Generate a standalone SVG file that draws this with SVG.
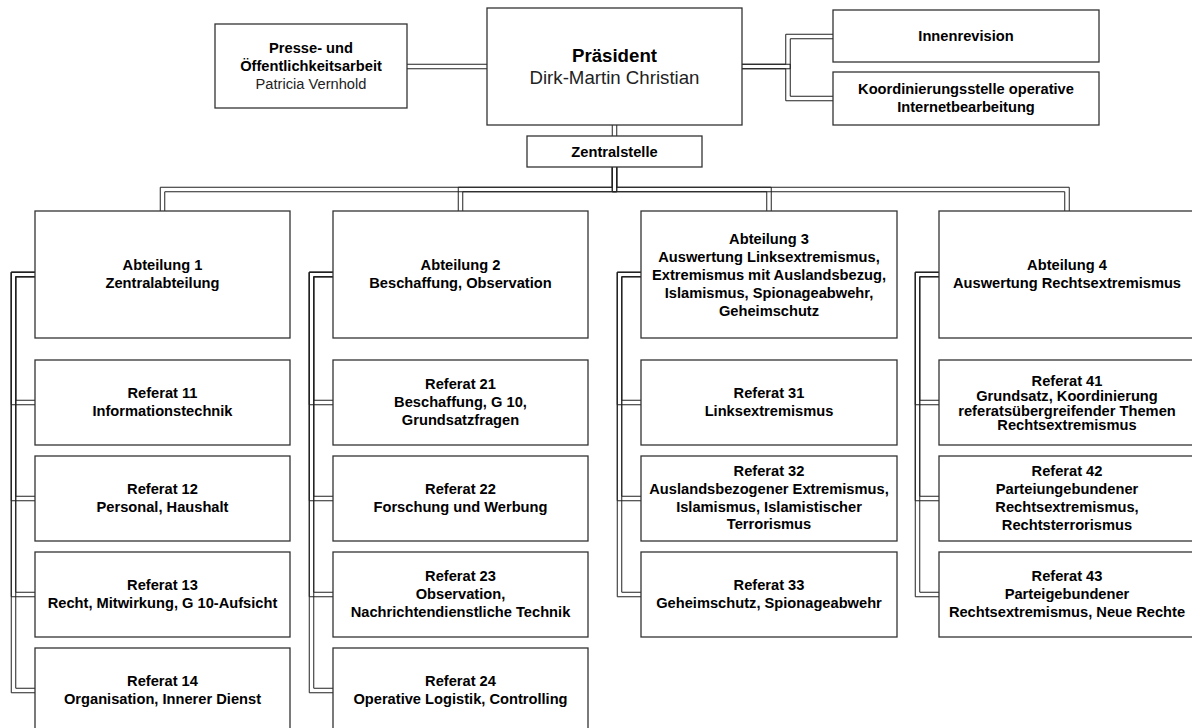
<svg xmlns="http://www.w3.org/2000/svg" width="1192" height="728" viewBox="0 0 1192 728">
<style>
.box{fill:#fff;stroke:#333;stroke-width:1.3}
.t{font-family:"Liberation Sans",Arial,sans-serif;font-size:14.67px;font-weight:bold;fill:#000;text-anchor:middle}
.n{font-weight:normal;fill:#222}
.big{font-size:18.67px}
.c{fill:none;stroke:#222;stroke-width:1}
</style>
<rect width="1192" height="728" fill="#fff"/>
<g id="connectors">
<!-- Praesident - Presse -->
<path class="c" d="M487 64.25H407M487 68.75H407"/>
<!-- Praesident - Innenrevision -->
<path class="c" d="M742 64.25H785.75V34.25H833M742 68.75H790.25V38.75H833"/>
<!-- Praesident - Koordinierung -->
<path class="c" d="M742 64.25H790.25V96.25H833M742 68.75H785.75V100.75H833"/>
<!-- Praesident - Zentralstelle -->
<path class="c" d="M612.25 125V136M616.75 125V136"/>
<!-- Zentralstelle - Abteilungen -->
<path class="c" d="M616.75 167V191.75H164.75V211M612.25 167V187.25H160.25V211"/>
<path class="c" d="M616.75 167V191.75H462.75V211M612.25 167V187.25H458.25V211"/>
<path class="c" d="M616.75 167V187.25H771.25V211M612.25 167V191.75H766.75V211"/>
<path class="c" d="M616.75 167V187.25H1069.25V211M612.25 167V191.75H1064.75V211"/>
<!-- Abteilung 1 -->
<path class="c" d="M35 276.75H15.75V400.25H35M35 272.25H11.25V404.75H35"/>
<path class="c" d="M35 276.75H15.75V496.25H35M35 272.25H11.25V500.75H35"/>
<path class="c" d="M35 276.75H15.75V592.25H35M35 272.25H11.25V596.75H35"/>
<path class="c" d="M35 276.75H15.75V688.25H35M35 272.25H11.25V692.75H35"/>
<!-- Abteilung 2 -->
<path class="c" d="M333 276.75H313.75V400.25H333M333 272.25H309.25V404.75H333"/>
<path class="c" d="M333 276.75H313.75V496.25H333M333 272.25H309.25V500.75H333"/>
<path class="c" d="M333 276.75H313.75V592.25H333M333 272.25H309.25V596.75H333"/>
<path class="c" d="M333 276.75H313.75V688.25H333M333 272.25H309.25V692.75H333"/>
<!-- Abteilung 3 -->
<path class="c" d="M641 276.75H621.75V400.25H641M641 272.25H617.25V404.75H641"/>
<path class="c" d="M641 276.75H621.75V496.25H641M641 272.25H617.25V500.75H641"/>
<path class="c" d="M641 276.75H621.75V592.25H641M641 272.25H617.25V596.75H641"/>
<!-- Abteilung 4 -->
<path class="c" d="M939 276.75H919.75V400.25H939M939 272.25H915.25V404.75H939"/>
<path class="c" d="M939 276.75H919.75V496.25H939M939 272.25H915.25V500.75H939"/>
<path class="c" d="M939 276.75H919.75V592.25H939M939 272.25H915.25V596.75H939"/>
</g>
<g id="praesident">
<rect class="box" x="487" y="8" width="255" height="117"/>
<text class="t big" x="614.5" y="62">Präsident</text>
<text class="t big n" x="614.5" y="84">Dirk-Martin Christian</text>
</g>
<g id="presse">
<rect class="box" x="215" y="24" width="192" height="84"/>
<text class="t" x="311" y="53">Presse- und</text>
<text class="t" x="311" y="71">Öffentlichkeitsarbeit</text>
<text class="t n" x="311" y="89">Patricia Vernhold</text>
</g>
<g id="innenrevision">
<rect class="box" x="833" y="10" width="266" height="52"/>
<text class="t" x="966" y="41">Innenrevision</text>
</g>
<g id="koordinierung">
<rect class="box" x="833" y="72" width="266" height="53"/>
<text class="t" x="966" y="94">Koordinierungsstelle operative</text>
<text class="t" x="966" y="112">Internetbearbeitung</text>
</g>
<g id="zentralstelle">
<rect class="box" x="527" y="136" width="175" height="31"/>
<text class="t" x="614.5" y="157">Zentralstelle</text>
</g>
<g id="abt1">
<rect class="box" x="35" y="211" width="255" height="127"/>
<text class="t" x="162.5" y="270">Abteilung 1</text>
<text class="t" x="162.5" y="288">Zentralabteilung</text>
</g>
<g id="abt2">
<rect class="box" x="333" y="211" width="255" height="127"/>
<text class="t" x="460.5" y="270">Abteilung 2</text>
<text class="t" x="460.5" y="288">Beschaffung, Observation</text>
</g>
<g id="abt3">
<rect class="box" x="641" y="211" width="256" height="127"/>
<text class="t" x="769" y="244">Abteilung 3</text>
<text class="t" x="769" y="262">Auswertung Linksextremismus,</text>
<text class="t" x="769" y="280">Extremismus mit Auslandsbezug,</text>
<text class="t" x="769" y="298">Islamismus, Spionageabwehr,</text>
<text class="t" x="769" y="316">Geheimschutz</text>
</g>
<g id="abt4">
<rect class="box" x="939" y="211" width="256" height="127"/>
<text class="t" x="1067" y="270">Abteilung 4</text>
<text class="t" x="1067" y="288">Auswertung Rechtsextremismus</text>
</g>
<g id="ref11">
<rect class="box" x="35" y="360" width="255" height="85"/>
<text class="t" x="162.5" y="398">Referat 11</text>
<text class="t" x="162.5" y="416">Informationstechnik</text>
</g>
<g id="ref12">
<rect class="box" x="35" y="456" width="255" height="85"/>
<text class="t" x="162.5" y="494">Referat 12</text>
<text class="t" x="162.5" y="512">Personal, Haushalt</text>
</g>
<g id="ref13">
<rect class="box" x="35" y="552" width="255" height="85"/>
<text class="t" x="162.5" y="590">Referat 13</text>
<text class="t" x="162.5" y="608">Recht, Mitwirkung, G 10-Aufsicht</text>
</g>
<g id="ref14">
<rect class="box" x="35" y="648" width="255" height="85"/>
<text class="t" x="162.5" y="686">Referat 14</text>
<text class="t" x="162.5" y="704">Organisation, Innerer Dienst</text>
</g>
<g id="ref21">
<rect class="box" x="333" y="360" width="255" height="85"/>
<text class="t" x="460.5" y="389">Referat 21</text>
<text class="t" x="460.5" y="407">Beschaffung, G 10,</text>
<text class="t" x="460.5" y="425">Grundsatzfragen</text>
</g>
<g id="ref22">
<rect class="box" x="333" y="456" width="255" height="85"/>
<text class="t" x="460.5" y="494">Referat 22</text>
<text class="t" x="460.5" y="512">Forschung und Werbung</text>
</g>
<g id="ref23">
<rect class="box" x="333" y="552" width="255" height="85"/>
<text class="t" x="460.5" y="581">Referat 23</text>
<text class="t" x="460.5" y="599">Observation,</text>
<text class="t" x="460.5" y="617">Nachrichtendienstliche Technik</text>
</g>
<g id="ref24">
<rect class="box" x="333" y="648" width="255" height="85"/>
<text class="t" x="460.5" y="686">Referat 24</text>
<text class="t" x="460.5" y="704">Operative Logistik, Controlling</text>
</g>
<g id="ref31">
<rect class="box" x="641" y="360" width="256" height="85"/>
<text class="t" x="769" y="398">Referat 31</text>
<text class="t" x="769" y="416">Linksextremismus</text>
</g>
<g id="ref32">
<rect class="box" x="641" y="456" width="256" height="85"/>
<text class="t" x="769" y="476">Referat 32</text>
<text class="t" x="769" y="494">Auslandsbezogener Extremismus,</text>
<text class="t" x="769" y="512">Islamismus, Islamistischer</text>
<text class="t" x="769" y="529">Terrorismus</text>
</g>
<g id="ref33">
<rect class="box" x="641" y="552" width="256" height="85"/>
<text class="t" x="769" y="590">Referat 33</text>
<text class="t" x="769" y="608">Geheimschutz, Spionageabwehr</text>
</g>
<g id="ref41">
<rect class="box" x="939" y="360" width="256" height="85"/>
<text class="t" x="1067" y="386">Referat 41</text>
<text class="t" x="1067" y="401">Grundsatz, Koordinierung</text>
<text class="t" x="1067" y="416">referatsübergreifender Themen</text>
<text class="t" x="1067" y="430">Rechtsextremismus</text>
</g>
<g id="ref42">
<rect class="box" x="939" y="456" width="256" height="85"/>
<text class="t" x="1067" y="476">Referat 42</text>
<text class="t" x="1067" y="494">Parteiungebundener</text>
<text class="t" x="1067" y="512">Rechtsextremismus,</text>
<text class="t" x="1067" y="530">Rechtsterrorismus</text>
</g>
<g id="ref43">
<rect class="box" x="939" y="552" width="256" height="85"/>
<text class="t" x="1067" y="581">Referat 43</text>
<text class="t" x="1067" y="599">Parteigebundener</text>
<text class="t" x="1067" y="617">Rechtsextremismus, Neue Rechte</text>
</g>
</svg>
